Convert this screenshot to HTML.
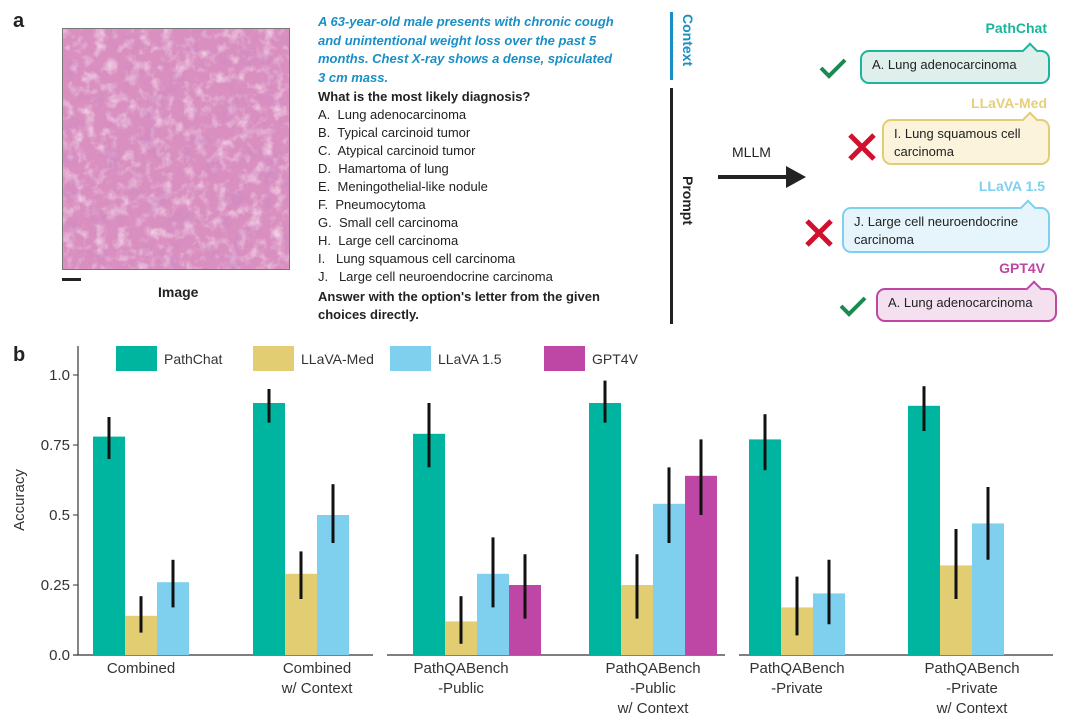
<!DOCTYPE html>
<html><head><meta charset="utf-8">
<style>
body{margin:0;background:#fff;width:1080px;height:727px;overflow:hidden;position:relative;font-family:"Liberation Sans",Arial,sans-serif;color:#222}
.abs{position:absolute}
.opt{position:absolute;left:318px;font-size:13px;color:#222;white-space:nowrap}
.bub{position:absolute;border:2px solid;border-radius:9px;font-size:13px;padding:4px 10px;box-sizing:border-box;line-height:18px;color:#222}
.lab{position:absolute;font-weight:bold;font-size:14px;white-space:nowrap}
.tail{position:absolute;width:10px;height:10px;border-left:2px solid;border-top:2px solid;transform:rotate(45deg)}
</style></head><body>
<div class="abs" style="left:13px;top:10px;font-weight:bold;font-size:20px">a</div>
<svg class="abs" style="left:62px;top:28px" width="228" height="242">
<defs><filter id="t"><feTurbulence type="fractalNoise" baseFrequency="0.09" numOctaves="3" seed="4"/><feColorMatrix type="matrix" values="0 0 0 0 0.97  0 0 0 0 0.85  0 0 0 0 0.93  1.6 0 0 0 -0.75"/></filter>
<filter id="t2"><feTurbulence type="fractalNoise" baseFrequency="0.05" numOctaves="2" seed="9"/><feColorMatrix type="matrix" values="0 0 0 0 0.6  0 0 0 0 0.25  0 0 0 0 0.55  0 1.6 0 0 -0.85"/></filter></defs>
<rect width="228" height="242" fill="#d98fc0"/>
<rect width="228" height="242" filter="url(#t)"/>
<rect width="228" height="242" filter="url(#t2)"/>
<rect x="0.5" y="0.5" width="227" height="241" fill="none" stroke="#777"/>
</svg>
<div class="abs" style="left:62px;top:278px;width:19px;height:3px;background:#222"></div>
<div class="abs" style="left:158px;top:284px;font-weight:bold;font-size:14px">Image</div>
<div class="abs" style="left:318px;top:13px;white-space:nowrap;color:#1a8fc6;font-style:italic;font-weight:bold;font-size:13px;line-height:18.5px">A 63-year-old male presents with chronic cough<br>and unintentional weight loss over the past 5<br>months. Chest X-ray shows a dense, spiculated<br>3 cm mass.</div>
<div class="opt" style="top:89px;font-weight:bold">What is the most likely diagnosis?</div>
<div class="opt" style="top:107px">A.&nbsp; Lung adenocarcinoma</div>
<div class="opt" style="top:125px">B.&nbsp; Typical carcinoid tumor</div>
<div class="opt" style="top:143px">C.&nbsp; Atypical carcinoid tumor</div>
<div class="opt" style="top:161px">D.&nbsp; Hamartoma of lung</div>
<div class="opt" style="top:179px">E.&nbsp; Meningothelial-like nodule</div>
<div class="opt" style="top:197px">F.&nbsp; Pneumocytoma</div>
<div class="opt" style="top:215px">G.&nbsp; Small cell carcinoma</div>
<div class="opt" style="top:233px">H.&nbsp; Large cell carcinoma</div>
<div class="opt" style="top:251px">I.&nbsp;&nbsp; Lung squamous cell carcinoma</div>
<div class="opt" style="top:269px">J.&nbsp;&nbsp; Large cell neuroendocrine carcinoma</div>
<div class="opt" style="top:288px;font-weight:bold;line-height:18px">Answer with the option's letter from the given<br>choices directly.</div>
<div class="abs" style="left:670px;top:12px;width:3px;height:68px;background:#1a8fc6"></div>
<div class="abs" style="left:670px;top:88px;width:3px;height:236px;background:#222"></div>
<div class="abs" style="left:680px;top:14px;writing-mode:vertical-rl;font-weight:bold;font-size:14px;color:#1a8fc6">Context</div>
<div class="abs" style="left:680px;top:176px;writing-mode:vertical-rl;font-weight:bold;font-size:14px;color:#222">Prompt</div>
<div class="abs" style="left:732px;top:144px;font-size:14px">MLLM</div>
<svg class="abs" style="left:716px;top:164px" width="92" height="26"><line x1="2" y1="13" x2="72" y2="13" stroke="#222" stroke-width="4"/><polygon points="70,2 90,13 70,24" fill="#222"/></svg>

<div class="lab" style="right:33px;top:20px;color:#1db39c">PathChat</div>
<div class="bub" style="left:860px;top:50px;width:190px;height:34px;border-color:#1db39c;background:#dff0ec">A. Lung adenocarcinoma</div>
<div class="tail" style="left:1024px;top:45px;border-color:#1db39c;background:#dff0ec"></div>
<div class="lab" style="right:33px;top:95px;color:#e6cf7a">LLaVA-Med</div>
<div class="bub" style="left:882px;top:119px;width:168px;height:46px;border-color:#e3cd73;background:#fbf3dc">I. Lung squamous cell carcinoma</div>
<div class="tail" style="left:1024px;top:114px;border-color:#e3cd73;background:#fbf3dc"></div>
<div class="lab" style="right:35px;top:178px;color:#7fd0ef">LLaVA 1.5</div>
<div class="bub" style="left:842px;top:207px;width:208px;height:46px;border-color:#7fd0ef;background:#e6f5fc">J. Large cell neuroendocrine carcinoma</div>
<div class="tail" style="left:1022px;top:202px;border-color:#7fd0ef;background:#e6f5fc"></div>
<div class="lab" style="right:35px;top:260px;color:#be46a4">GPT4V</div>
<div class="bub" style="left:876px;top:288px;width:181px;height:34px;border-color:#be46a4;background:#f4e0ef">A. Lung adenocarcinoma</div>
<div class="tail" style="left:1028px;top:283px;border-color:#be46a4;background:#f4e0ef"></div>
<svg class="abs" style="left:818px;top:56px" width="30" height="24"><polyline points="3,12 11,20 27,4" fill="none" stroke="#1a8a4f" stroke-width="4"/></svg>
<svg class="abs" style="left:847px;top:132px" width="30" height="30"><path d="M3 3L27 27M27 3L3 27" stroke="#d0102d" stroke-width="5"/></svg>
<svg class="abs" style="left:804px;top:218px" width="30" height="30"><path d="M3 3L27 27M27 3L3 27" stroke="#d0102d" stroke-width="5"/></svg>
<svg class="abs" style="left:838px;top:294px" width="30" height="24"><polyline points="3,12 11,20 27,4" fill="none" stroke="#1a8a4f" stroke-width="4"/></svg>

<div class="abs" style="left:13px;top:344px;font-weight:bold;font-size:20px">b</div>
<svg id="chart" class="abs" style="left:0;top:0" width="1080" height="727"></svg>
<script>
const categories=[["Combined"],["Combined","w/ Context"],["PathQABench","-Public"],["PathQABench","-Public","w/ Context"],["PathQABench","-Private"],["PathQABench","-Private","w/ Context"]];
const seriesNames=["PathChat","LLaVA-Med","LLaVA 1.5","GPT4V"];
const pathchat=[0.78,0.90,0.79,0.90,0.77,0.89];
const pathchatLo=[0.70,0.83,0.67,0.83,0.66,0.80];
const pathchatHi=[0.85,0.95,0.90,0.98,0.86,0.96];
const llavamed=[0.14,0.29,0.12,0.25,0.17,0.32];
const llavamedLo=[0.08,0.20,0.04,0.13,0.07,0.20];
const llavamedHi=[0.21,0.37,0.21,0.36,0.28,0.45];
const llava15=[0.26,0.50,0.29,0.54,0.22,0.47];
const llava15Lo=[0.17,0.40,0.17,0.40,0.11,0.34];
const llava15Hi=[0.34,0.61,0.42,0.67,0.34,0.60];
const gpt4v=[null,null,0.25,0.64,null,null];
const gpt4vLo=[null,null,0.13,0.50,null,null];
const gpt4vHi=[null,null,0.36,0.77,null,null];
const yTicks=[0,0.25,0.5,0.75,1.0];
const yTickLabels=["0.0","0.25","0.5","0.75","1.0"];
const colors=["#00b5a0","#e3cd73","#7fd0ef","#be46a4"];
const series=[[pathchat,pathchatLo,pathchatHi],[llavamed,llavamedLo,llavamedHi],[llava15,llava15Lo,llava15Hi],[gpt4v,gpt4vLo,gpt4vHi]];
const NS="http://www.w3.org/2000/svg",svg=document.getElementById('chart');
const y=v=>655-v*280;
const groupX=[93,253,413,589,749,908];
const bw=32;
const x=(g,s)=>groupX[g]+s*bw;
function mk(t,a,p){const e=document.createElementNS(NS,t);for(const k in a)e.setAttribute(k,a[k]);(p||svg).appendChild(e);return e;}
let ax=mk('line',{x1:78,y1:346,x2:78,y2:655,stroke:'#333','stroke-width':1.2});


[[73,373],[387,725],[739,1053]].forEach((s,i)=>{const l=mk('line',{x1:s[0],y1:655,x2:s[1],y2:655,stroke:'#333','stroke-width':1.2});

});
yTicks.forEach((v,i)=>{const t=mk('line',{x1:73,x2:78,y1:y(v),y2:y(v),stroke:'#333'});


const tx=mk('text',{x:70,y:y(v)+5,'text-anchor':'end','font-size':15,fill:'#333','font-family':'Liberation Sans'});tx.textContent=yTickLabels[i];

});
const yt=mk('text',{x:0,y:0,transform:'translate(24,500) rotate(-90)','text-anchor':'middle','font-size':15,fill:'#333','font-family':'Liberation Sans'});yt.textContent='Accuracy';


series.forEach((s,si)=>{s[0].forEach((v,g)=>{if(v===null)return;
const r=mk('rect',{x:x(g,si),y:y(v),width:bw,height:y(0)-y(v),fill:colors[si]});


const e=mk('line',{x1:x(g,si)+bw/2,x2:x(g,si)+bw/2,y1:y(s[1][g]),y2:y(s[2][g]),stroke:'#111','stroke-width':3});

});});
categories.forEach((c,g)=>{const n=(g===0||g===2||g===4)?3:4;const cx=groupX[g]+n*bw/2;
c.forEach((line,li)=>{const t=mk('text',{x:cx,y:673+li*20,'text-anchor':'middle','font-size':15,fill:'#333','font-family':'Liberation Sans'});t.textContent=line;

});});
const legX=[116,253,390,544];
seriesNames.forEach((n,i)=>{const r=mk('rect',{x:legX[i],y:346,width:41,height:25,fill:colors[i]});


const t=mk('text',{x:legX[i]+48,y:364,'font-size':14,fill:'#333','font-family':'Liberation Sans'});t.textContent=n;

});
</script>
</body></html>
